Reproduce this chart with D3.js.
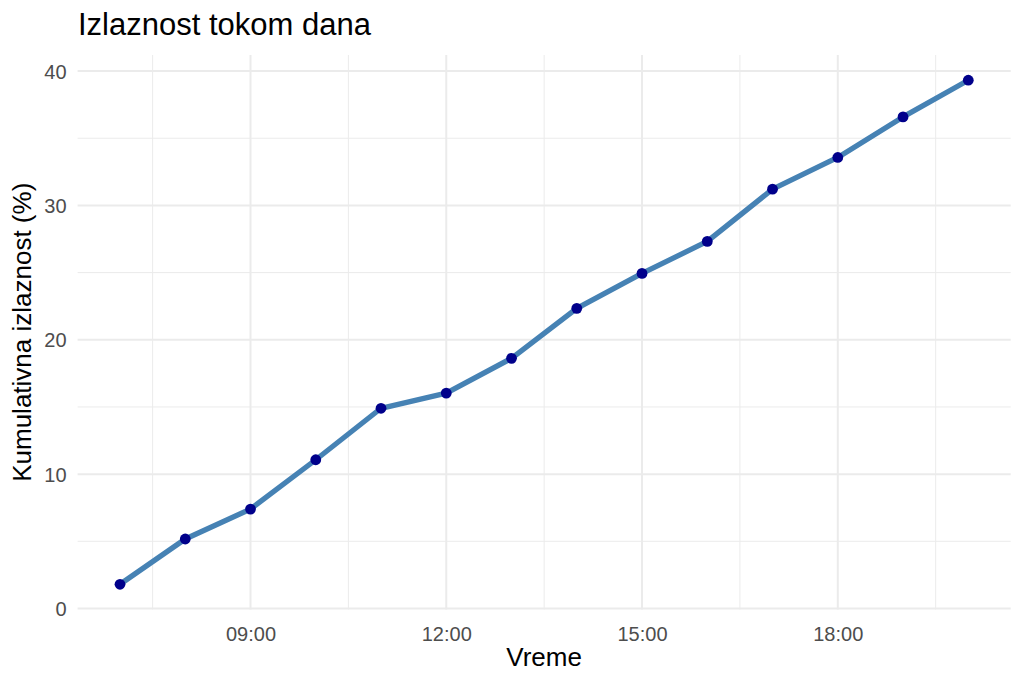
<!DOCTYPE html>
<html>
<head>
<meta charset="utf-8">
<script src="https://cdn.jsdelivr.net/npm/d3@7"></script>
<style>
  html, body { margin: 0; padding: 0; background: #fff; }
  svg { display: block; font-family: "Liberation Sans", Arial, sans-serif; }
</style>
</head>
<body>
<svg id="chart" width="1024" height="683"></svg>
<script>
// ---- data ----
const hours = [7, 8, 9, 10, 11, 12, 13, 14, 15, 16, 17, 18, 19, 20];
const turnout = [1.80, 5.17, 7.40, 11.07, 14.90, 16.03, 18.62, 22.34, 24.94, 27.32, 31.21, 33.57, 36.59, 39.32];
const xTickHours = [9, 12, 15, 18];
const xTickLabels = ["09:00", "12:00", "15:00", "18:00"];
const xMinorHours = [7.5, 10.5, 13.5, 16.5, 19.5];
const yTicks = [0, 10, 20, 30, 40];
const yMinor = [5, 15, 25, 35];
const titleText = "Izlaznost tokom dana";
const xTitle = "Vreme";
const yTitle = "Kumulativna izlaznost (%)";

// ---- layout ----
const panel = { left: 77.6, right: 1010.7, top: 55, bottom: 609.5 };
const svg = d3.select("#chart");

const xExt = d3.extent(hours);
const xPad = (xExt[1] - xExt[0]) * 0.05;
const x = d3.scaleLinear().domain([xExt[0] - xPad, xExt[1] + xPad]).range([panel.left, panel.right]);
const yExt = d3.extent(turnout);
const yPad = (yExt[1] - yExt[0]) * 0.05;
const y = d3.scaleLinear().domain([yExt[0] - yPad, yExt[1] + yPad]).range([panel.bottom, panel.top]);

const grid = svg.append("g");

// minor gridlines
grid.selectAll("line.ymin").data(yMinor).join("line")
  .attr("x1", panel.left).attr("x2", panel.right)
  .attr("y1", d => y(d)).attr("y2", d => y(d))
  .attr("stroke", "#EBEBEB").attr("stroke-width", 1);
grid.selectAll("line.xmin").data(xMinorHours).join("line")
  .attr("y1", panel.top).attr("y2", panel.bottom)
  .attr("x1", d => x(d)).attr("x2", d => x(d))
  .attr("stroke", "#EBEBEB").attr("stroke-width", 1);
// major gridlines
grid.selectAll("line.ymaj").data(yTicks).join("line")
  .attr("x1", panel.left).attr("x2", panel.right)
  .attr("y1", d => y(d)).attr("y2", d => y(d))
  .attr("stroke", "#EBEBEB").attr("stroke-width", 2);
grid.selectAll("line.xmaj").data(xTickHours).join("line")
  .attr("y1", panel.top).attr("y2", panel.bottom)
  .attr("x1", d => x(d)).attr("x2", d => x(d))
  .attr("stroke", "#EBEBEB").attr("stroke-width", 2);

// axes (text only, via d3 axis)
const xAxis = d3.axisBottom(x).tickValues(xTickHours)
  .tickFormat((d, i) => xTickLabels[i]).tickSize(0).tickPadding(0);
const gx = svg.append("g").attr("transform", `translate(0,${panel.bottom})`).call(xAxis);
gx.select(".domain").remove();
gx.selectAll("text").attr("fill", "#4D4D4D").attr("font-size", 20)
  .attr("dy", 0).attr("y", 31).style("font-family", "'Liberation Sans', Arial, sans-serif");

const yAxis = d3.axisLeft(y).tickValues(yTicks).tickSize(0).tickPadding(0);
const gy = svg.append("g").attr("transform", `translate(${panel.left},0)`).call(yAxis);
gy.select(".domain").remove();
gy.selectAll("text").attr("fill", "#4D4D4D").attr("font-size", 20)
  .attr("x", -11).attr("dy", "0.35em").style("font-family", "'Liberation Sans', Arial, sans-serif");

// line
const line = d3.line().x((d, i) => x(hours[i])).y(d => y(d));
svg.append("path").datum(turnout)
  .attr("d", line).attr("fill", "none")
  .attr("stroke", "#4682B4").attr("stroke-width", 5.3)
  .attr("stroke-linejoin", "round").attr("stroke-linecap", "butt");

// points
svg.selectAll("circle.pt").data(turnout).join("circle")
  .attr("cx", (d, i) => x(hours[i])).attr("cy", d => y(d))
  .attr("r", 5.4).attr("fill", "#00008B");

// titles
svg.append("text").attr("x", 78).attr("y", 35)
  .attr("font-size", 31).attr("fill", "#000").text(titleText);
svg.append("text").attr("x", (panel.left + panel.right) / 2).attr("y", 666)
  .attr("text-anchor", "middle").attr("font-size", 26).attr("fill", "#000").text(xTitle);
svg.append("text")
  .attr("transform", `translate(31,${(panel.top + panel.bottom) / 2}) rotate(-90)`)
  .attr("text-anchor", "middle").attr("font-size", 26).attr("fill", "#000").text(yTitle);
</script>
</body>
</html>
